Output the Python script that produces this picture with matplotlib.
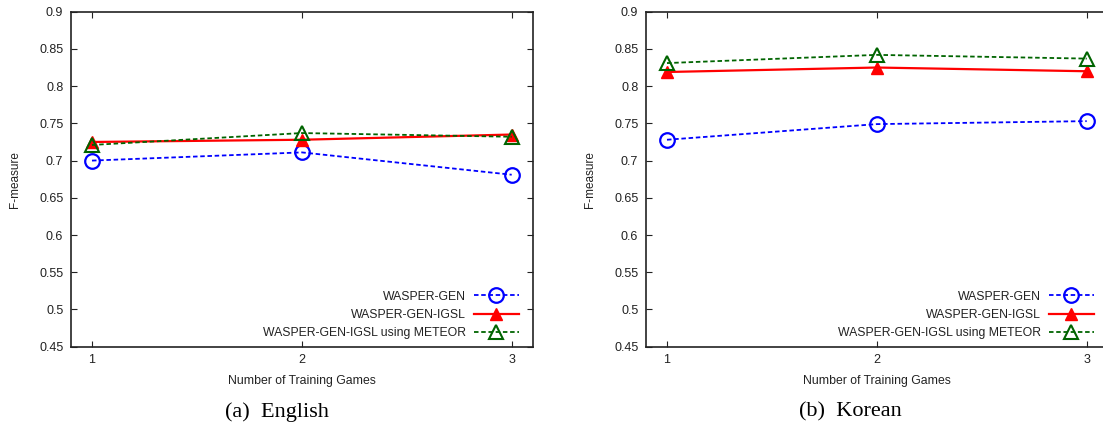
import numpy as np
import matplotlib
matplotlib.use("Agg")
import matplotlib.pyplot as plt

plt.rcParams['font.family'] = ['Liberation Sans', 'DejaVu Sans']

# data
games = [1, 2, 3]
eng_gen = [0.700, 0.711, 0.681]
eng_igsl = [0.725, 0.728, 0.735]
eng_meteor = [0.721, 0.737, 0.732]
kor_gen = [0.728, 0.749, 0.753]
kor_igsl = [0.819, 0.825, 0.820]
kor_meteor = [0.831, 0.842, 0.837]

labels = ["WASPER-GEN", "WASPER-GEN-IGSL", "WASPER-GEN-IGSL using METEOR"]
yticks = [0.45, 0.5, 0.55, 0.6, 0.65, 0.7, 0.75, 0.8, 0.85, 0.9]
captions = ["(a)  English", "(b)  Korean"]

W, H = 1103, 428
fig = plt.figure(figsize=(W / 100, H / 100), dpi=100)

axw = 461.7 / W
axb = (H - 346.7) / H
axh = (346.7 - 11.7) / H
axes = [fig.add_axes([71 / W, axb, axw, axh]),
        fig.add_axes([646 / W, axb, axw, axh])]

dark = '#222222'


def draw(ax, gen, igsl, meteor, right_ticks=True):
    ax.plot(games, gen, color='#0000ff', ls=(0, (2.5, 1.5)), lw=1.3,
            marker='o', ms=10.5, mfc='none', mew=1.6, label=labels[0])
    ax.plot(games, igsl, color='#ff0000', ls='-', lw=1.6,
            marker='^', ms=9, label=labels[1])
    ax.plot(games, meteor, color='#006400', ls=(0, (2.5, 1.5)), lw=1.3,
            marker='^', ms=9.5, mfc='none', mew=1.5, label=labels[2])
    ax.set_xlim(0.9, 3.1)
    ax.set_ylim(0.45, 0.9)
    ax.set_xticks(games)
    ax.set_xticklabels([str(g) for g in games])
    ax.set_yticks(yticks)
    ax.set_yticklabels(['%g' % v for v in yticks])
    ax.tick_params(direction='in', length=4, width=0.8, color=dark,
                   labelsize=9, labelcolor=dark, top=True, right=right_ticks,
                   pad=5.5)
    for s in ax.spines.values():
        s.set_linewidth(1.2)
        s.set_color(dark)
    ax.set_xlabel("Number of Training Games", fontsize=8.8, color=dark, labelpad=6)
    ax.set_ylabel("F-measure", fontsize=8.5, color=dark, labelpad=13)
    leg = ax.legend(loc='lower right', bbox_to_anchor=(0.97, 0.022),
                    frameon=False, markerfirst=False, fontsize=8.8,
                    handlelength=3.7, handletextpad=0.65, labelspacing=0.52,
                    borderpad=0, borderaxespad=0)
    for t in leg.get_texts():
        t.set_color(dark)


draw(axes[0], eng_gen, eng_igsl, eng_meteor)
draw(axes[1], kor_gen, kor_igsl, kor_meteor, right_ticks=False)

fig.text(277 / W, 1 - 412 / H, captions[0], ha='center', va='center',
         fontsize=16, family='Liberation Serif')
fig.text(850 / W, 1 - 412 / H, captions[1], ha='center', va='center',
         fontsize=16, family='Liberation Serif')

fig.savefig('out.png', dpi=100)
